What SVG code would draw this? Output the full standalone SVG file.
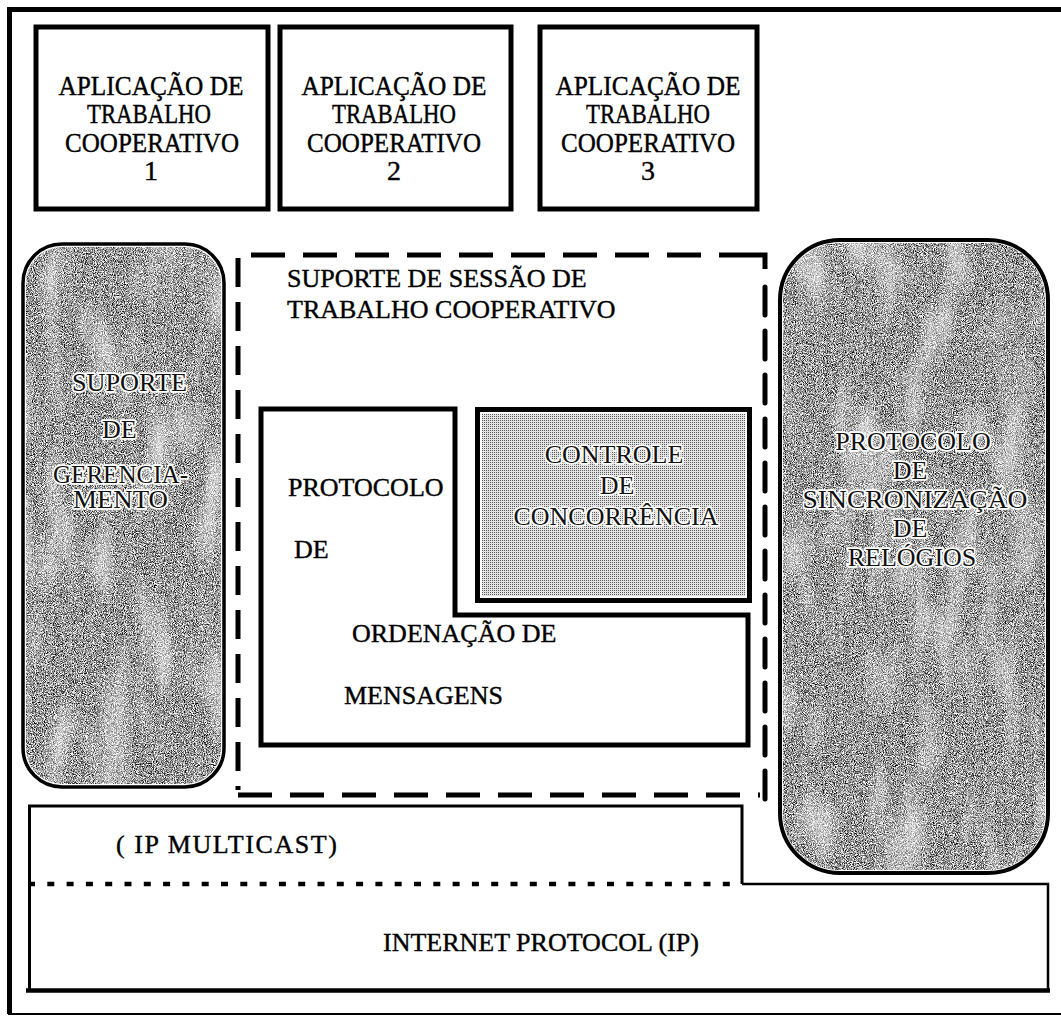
<svg xmlns="http://www.w3.org/2000/svg" width="1061" height="1016" viewBox="0 0 1061 1016">
  <style>
    .t { font-family: "Liberation Serif", "Times New Roman", serif; fill: #000; stroke: #000; stroke-width: 0.4px; }
    .app { font-size: 28px; text-anchor: middle; }
    .lbl { font-size: 26px; }
    .emb { font-size: 26px; fill: #111; stroke: #fff; stroke-width: 3.5px; paint-order: stroke; stroke-linejoin: round; }
    .box { fill: none; stroke: #000; stroke-width: 5; }
    .dash { fill: none; stroke: #000; stroke-width: 5; }
  </style>
  <defs>
    <!-- grainy mid-grey halftone used for the side columns -->
    <filter id="grain" x="0" y="0" width="1" height="1" color-interpolation-filters="sRGB">
      <feTurbulence type="fractalNoise" baseFrequency="1.1" numOctaves="2" seed="4" result="fine"/>
      <feColorMatrix in="fine" type="matrix" values="2.2 0 0 0 -0.5  2.2 0 0 0 -0.5  2.2 0 0 0 -0.5  0 0 0 0 1" result="grey"/>
      <feTurbulence type="fractalNoise" baseFrequency="0.03 0.01" numOctaves="2" seed="11" result="coarse"/>
      <feColorMatrix in="coarse" type="matrix" values="0 0 0 0 1  0 0 0 0 1  0 0 0 0 1  1.8 0 0 0 -0.86" result="patch"/>
      <feMerge result="mix">
        <feMergeNode in="grey"/>
        <feMergeNode in="patch"/>
      </feMerge>
      <feComposite in="mix" in2="SourceAlpha" operator="in"/>
    </filter>
    <!-- fine light dot screen for the concurrency block -->
    <pattern id="screen" width="2" height="2" patternUnits="userSpaceOnUse">
      <rect width="2" height="2" fill="#e2e2e2"/>
      <rect width="1" height="1" fill="#5c5c5c"/>
    </pattern>
  </defs>

  <!-- outer frame -->
  <g id="frame">
    <path d="M9.5,1014 V9.5 H1061" fill="none" stroke="#000" stroke-width="5"/>
    <line x1="8" y1="1014" x2="1061" y2="1014" stroke="#000" stroke-width="2"/>
  </g>

  <!-- cooperative work applications -->
  <g id="app1">
    <rect class="box" x="36" y="27" width="232" height="182"/>
    <text class="t app" x="151" y="95" textLength="185" lengthAdjust="spacingAndGlyphs">APLICAÇÃO DE</text>
    <text class="t app" x="149" y="123" textLength="124" lengthAdjust="spacingAndGlyphs">TRABALHO</text>
    <text class="t app" x="152" y="152" textLength="174" lengthAdjust="spacingAndGlyphs">COOPERATIVO</text>
    <text class="t app" x="151" y="180">1</text>
  </g>
  <g id="app2">
    <rect class="box" x="280" y="27" width="231" height="182"/>
    <text class="t app" x="394" y="95" textLength="185" lengthAdjust="spacingAndGlyphs">APLICAÇÃO DE</text>
    <text class="t app" x="394" y="123" textLength="124" lengthAdjust="spacingAndGlyphs">TRABALHO</text>
    <text class="t app" x="394" y="152" textLength="174" lengthAdjust="spacingAndGlyphs">COOPERATIVO</text>
    <text class="t app" x="394" y="180">2</text>
  </g>
  <g id="app3">
    <rect class="box" x="540" y="27" width="217" height="182"/>
    <text class="t app" x="648" y="95" textLength="185" lengthAdjust="spacingAndGlyphs">APLICAÇÃO DE</text>
    <text class="t app" x="648" y="123" textLength="124" lengthAdjust="spacingAndGlyphs">TRABALHO</text>
    <text class="t app" x="648" y="152" textLength="174" lengthAdjust="spacingAndGlyphs">COOPERATIVO</text>
    <text class="t app" x="648" y="180">3</text>
  </g>

  <!-- management support column -->
  <g id="gerenciamento">
    <rect x="26" y="247" width="195" height="537" rx="36" ry="36" fill="#000" filter="url(#grain)"/>
    <rect x="23" y="244" width="201" height="543" rx="39" ry="39" fill="none" stroke="#000" stroke-width="3.5"/>
    <text class="t emb" x="72" y="391" textLength="115" lengthAdjust="spacingAndGlyphs">SUPORTE</text>
    <text class="t emb" x="102" y="438">DE</text>
    <text class="t emb" x="53" y="483" textLength="135" lengthAdjust="spacingAndGlyphs">GERENCIA-</text>
    <text class="t emb" x="73" y="508" textLength="95" lengthAdjust="spacingAndGlyphs">MENTO</text>
  </g>

  <!-- clock synchronisation column -->
  <g id="sincronizacao">
    <rect x="783" y="243" width="262" height="627" rx="56" ry="56" fill="#000" filter="url(#grain)"/>
    <rect x="780" y="240" width="268" height="633" rx="60" ry="60" fill="none" stroke="#000" stroke-width="4"/>
    <text class="t emb" x="913" y="450" text-anchor="middle">PROTOCOLO</text>
    <text class="t emb" x="910" y="479" text-anchor="middle">DE</text>
    <text class="t emb" x="915" y="508" text-anchor="middle" textLength="225" lengthAdjust="spacingAndGlyphs">SINCRONIZAÇÃO</text>
    <text class="t emb" x="910" y="537" text-anchor="middle">DE</text>
    <text class="t emb" x="912" y="566" text-anchor="middle">RELÓGIOS</text>
  </g>

  <!-- session support (dashed container) -->
  <g id="sessao">
    <line class="dash" x1="251" y1="255" x2="729" y2="255" stroke-dasharray="34 18"/>
    <path d="M729,255 H765 V269" fill="none" stroke="#000" stroke-width="5"/>
    <line class="dash" x1="765" y1="287" x2="765" y2="800" stroke-dasharray="28 16" stroke-linecap="round"/>
    <line class="dash" x1="238" y1="258" x2="238" y2="790" stroke-dasharray="29 15"/>
    <line class="dash" x1="238" y1="795" x2="760" y2="795" stroke-dasharray="34 18"/>
    <text class="t lbl" x="287" y="287">SUPORTE DE SESSÃO DE</text>
    <text class="t lbl" x="287" y="318">TRABALHO COOPERATIVO</text>
  </g>

  <!-- message ordering protocol (L-shaped block) -->
  <g id="ordenacao">
    <path class="box" d="M261,409 H455 V615 H748 V745 H261 Z"/>
    <text class="t lbl" x="288" y="496">PROTOCOLO</text>
    <text class="t lbl" x="294" y="558">DE</text>
    <text class="t lbl" x="352" y="642">ORDENAÇÃO DE</text>
    <text class="t lbl" x="344" y="704">MENSAGENS</text>
  </g>

  <!-- concurrency control -->
  <g id="concorrencia">
    <rect x="482" y="414" width="263" height="182" fill="url(#screen)"/>
    <rect class="box" x="477.5" y="409.5" width="272" height="191"/>
    <text class="t emb" x="614" y="463" text-anchor="middle">CONTROLE</text>
    <text class="t emb" x="617" y="494" text-anchor="middle">DE</text>
    <text class="t emb" x="616" y="525" text-anchor="middle" textLength="205" lengthAdjust="spacingAndGlyphs">CONCORRÊNCIA</text>
  </g>

  <!-- IP multicast layer -->
  <g id="multicast">
    <path d="M29.5,884 V806 H742 V884" fill="none" stroke="#000" stroke-width="3"/>
    <line x1="28" y1="884" x2="742" y2="884" stroke="#000" stroke-width="4.5" stroke-dasharray="7 12.3"/>
    <text class="t lbl" x="116" y="853" textLength="221" lengthAdjust="spacing">( IP MULTICAST)</text>
  </g>

  <!-- internet protocol layer -->
  <g id="ip">
    <path d="M742,884 H1048 V990" fill="none" stroke="#000" stroke-width="2.5"/>
    <line x1="29.5" y1="884" x2="29.5" y2="990" stroke="#000" stroke-width="3"/>
    <line x1="26" y1="990.5" x2="1050" y2="990.5" stroke="#000" stroke-width="4.5"/>
    <text class="t lbl" x="383" y="951">INTERNET PROTOCOL (IP)</text>
  </g>
</svg>
